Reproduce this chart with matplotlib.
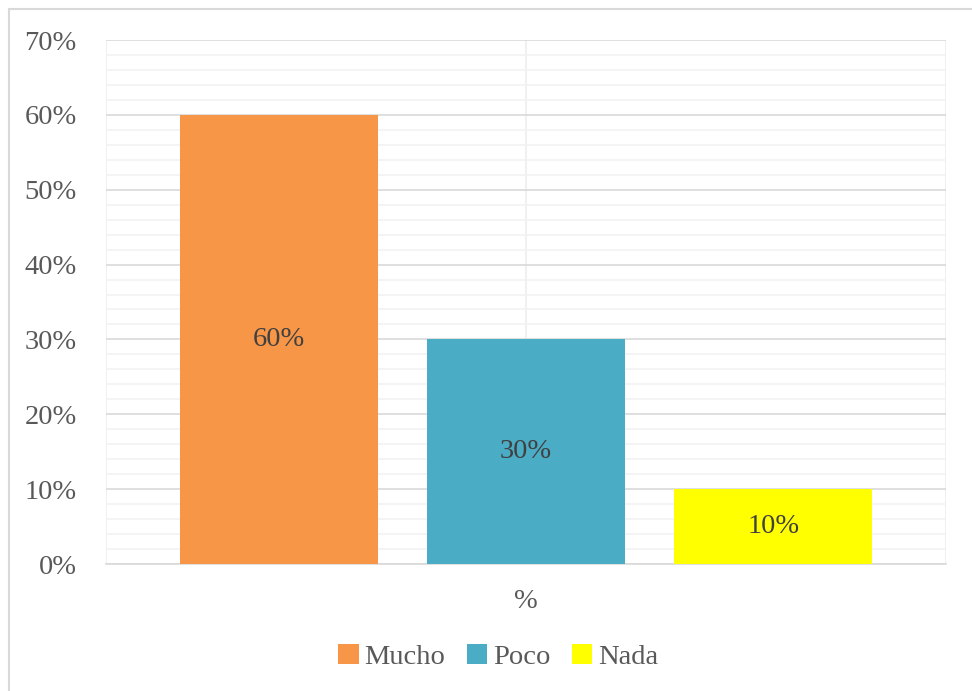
import matplotlib.pyplot as plt
from matplotlib.patches import Rectangle
from matplotlib.ticker import MultipleLocator, PercentFormatter

categories = ["Mucho", "Poco", "Nada"]
values = [60, 30, 10]
colors = ["#F79646", "#4BACC6", "#FFFF00"]
group_label = "%"

TXT = "#595959"
plt.rcParams["font.family"] = ["Liberation Serif", "DejaVu Serif"]

fig = plt.figure(figsize=(9.72, 6.91), dpi=100)
ax = fig.add_axes([106 / 972, 1 - 564 / 691, 840 / 972, 524 / 691])

width = 0.2357
gap = 0.0586
for i, (cat, v, c) in enumerate(zip(categories, values, colors)):
    x = 0.5 + (i - 1) * (width + gap)
    ax.bar(x, v, width=width, color=c, label=cat, zorder=3)
    ax.text(x, v / 2, f"{v}%", ha="center", va="center", fontsize=20.5,
            color="#404040", zorder=4)

ax.set_xlim(0, 1)
ax.set_ylim(0, 70)
ax.yaxis.set_major_locator(MultipleLocator(10))
ax.yaxis.set_minor_locator(MultipleLocator(2))
ax.yaxis.set_major_formatter(PercentFormatter(decimals=0))
ax.grid(axis="y", which="major", color="#d9d9d9", lw=1.2, zorder=0)
ax.grid(axis="y", which="minor", color="#f2f2f2", lw=1.2, zorder=0)
for xv in (0, 0.5, 1):
    ax.axvline(xv, color="#eeeeee", lw=1.2, zorder=0)
ax.tick_params(axis="y", which="both", length=0, labelsize=20.5, labelcolor=TXT, pad=21)
ax.set_xticks([0.5])
ax.set_xticklabels([group_label])
ax.tick_params(axis="x", length=0, labelsize=20.5, labelcolor=TXT, pad=18)
for s in ["top", "right", "left"]:
    ax.spines[s].set_visible(False)
ax.spines["bottom"].set_color("#d9d9d9")
ax.spines["bottom"].set_linewidth(1.2)

fig.legend(loc="center", bbox_to_anchor=(498 / 972, 1 - 657 / 691), ncol=3, frameon=False,
           fontsize=20.5, labelcolor=TXT, handlelength=0.72, handleheight=0.72,
           handletextpad=0.2, columnspacing=0.75)

fig.patches.append(Rectangle((9 / 972, -0.05), 1.0, 1.05 - 9 / 691, transform=fig.transFigure,
                             fill=False, edgecolor="#d9d9d9", lw=1.5))

fig.savefig("out.png", dpi=100)
